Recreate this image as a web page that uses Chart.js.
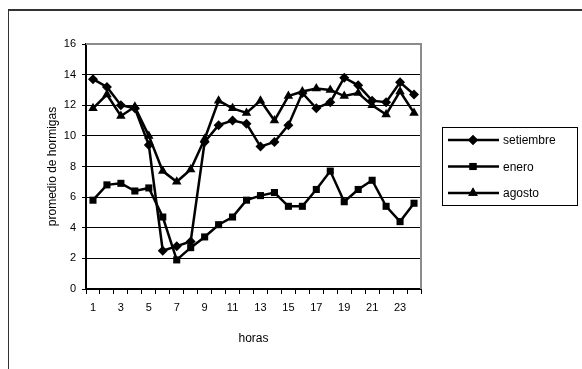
<!DOCTYPE html>
<html>
<head>
<meta charset="utf-8">
<script src="https://cdn.jsdelivr.net/npm/chart.js@4/dist/chart.umd.min.js"></script>
<style>
  html, body { margin: 0; padding: 0; background: #fff; }
  #wrap { position: relative; width: 582px; height: 369px; }
</style>
</head>
<body>
<div id="wrap"><canvas id="c" width="582" height="369"></canvas></div>
<script>
// Hours of the day (1..24)
const horas = [1,2,3,4,5,6,7,8,9,10,11,12,13,14,15,16,17,18,19,20,21,22,23,24];

// Average number of ants per hour, by month
const setiembre = [13.7,13.2,12.0,11.8,9.4,2.5,2.8,3.1,9.6,10.7,11.0,10.8,9.3,9.6,10.7,12.8,11.8,12.2,13.8,13.3,12.3,12.2,13.5,12.7];
const enero     = [5.8,6.8,6.9,6.4,6.6,4.7,1.9,2.7,3.4,4.2,4.7,5.8,6.1,6.3,5.4,5.4,6.5,7.7,5.7,6.5,7.1,5.4,4.4,5.6];
const agosto    = [11.8,12.7,11.3,11.9,10.0,7.7,7.0,7.8,9.8,12.3,11.8,11.5,12.3,11.0,12.6,12.9,13.1,13.0,12.6,12.8,12.0,11.4,12.9,11.5];

const FONT = "'Liberation Sans', Arial, sans-serif";

function series(label, data, style, r) {
  return {
    label, data,
    borderColor: '#000', backgroundColor: '#000',
    borderWidth: 2.5, tension: 0,
    pointStyle: style, pointRadius: r, pointHoverRadius: r,
    pointBorderWidth: 0, pointBackgroundColor: '#000'
  };
}

// Frame around the chart, the plot border and the boxed legend
const decor = {
  id: 'decor',
  beforeDraw(chart) {
    const ctx = chart.ctx;
    ctx.save();
    ctx.strokeStyle = '#333';
    ctx.lineWidth = 1;
    ctx.beginPath();
    ctx.moveTo(8.5, 369); ctx.lineTo(8.5, 10);
    ctx.stroke();
    ctx.lineWidth = 2;
    ctx.beginPath();
    ctx.moveTo(8, 10); ctx.lineTo(582, 10);
    ctx.stroke();
    ctx.restore();
  },
  afterDraw(chart) {
    const ctx = chart.ctx;
    const a = chart.chartArea;
    ctx.save();
    // gray top and right edges of the plot area
    ctx.strokeStyle = '#8c8c8c';
    ctx.lineWidth = 2;
    ctx.beginPath();
    ctx.moveTo(a.left, a.top); ctx.lineTo(a.right, a.top); ctx.lineTo(a.right, a.bottom);
    ctx.stroke();

    // legend
    const bx = 442.5, by = 127.5, bw = 135, bh = 78;
    ctx.strokeStyle = '#000';
    ctx.lineWidth = 1;
    ctx.strokeRect(bx, by, bw, bh);
    ctx.font = '12px ' + FONT;
    ctx.textBaseline = 'middle';
    ctx.fillStyle = '#000';
    const ys = [140, 166.5, 193];
    chart.data.datasets.forEach((ds, i) => {
      const y = ys[i];
      ctx.lineWidth = 2.5;
      ctx.beginPath();
      ctx.moveTo(448, y); ctx.lineTo(499, y);
      ctx.stroke();
      Chart.helpers.drawPoint(ctx, { pointStyle: ds.pointStyle, radius: ds.pointRadius, rotation: 0, borderWidth: 0 }, 473, y);
      ctx.fill();
      ctx.fillText(ds.label, 503, y + 1);
    });
    ctx.restore();
  }
};

new Chart(document.getElementById('c'), {
  type: 'line',
  data: {
    labels: horas,
    datasets: [
      series('setiembre', setiembre, 'rectRot', 5),
      series('enero', enero, 'rect', 5),
      series('agosto', agosto, 'triangle', 5.5)
    ]
  },
  options: {
    responsive: false,
    animation: false,
    events: [],
    layout: { padding: { left: 45, top: 44, right: 161, bottom: 19 } },
    plugins: { legend: { display: false }, tooltip: { enabled: false } },
    scales: {
      x: {
        type: 'category',
        offset: true,
        afterFit(s) { s.height = 61; },
        grid: { display: true, offset: true, drawOnChartArea: false, drawTicks: true, tickLength: 5, color: '#000', lineWidth: 1 },
        border: { display: true, color: '#000', width: 2 },
        ticks: {
          autoSkip: false, maxRotation: 0, minRotation: 0, padding: 7,
          color: '#000', font: { family: FONT, size: 11 },
          callback(v, i) { return i % 2 === 0 ? horas[i] : ''; }
        },
        title: { display: true, text: 'horas', color: '#000', font: { family: FONT, size: 12 }, padding: { top: 12 } }
      },
      y: {
        min: 0, max: 16,
        afterFit(s) { s.width = 41; },
        grid: { color: '#000', lineWidth: 1, drawTicks: true, tickLength: 4 },
        border: { display: true, color: '#000', width: 2 },
        ticks: { stepSize: 2, padding: 6, color: '#000', font: { family: FONT, size: 11 } },
        title: { display: true, text: 'promedio de hormigas', color: '#000', font: { family: FONT, size: 12 }, padding: 0 }
      }
    }
  },
  plugins: [decor]
});
</script>
</body>
</html>
